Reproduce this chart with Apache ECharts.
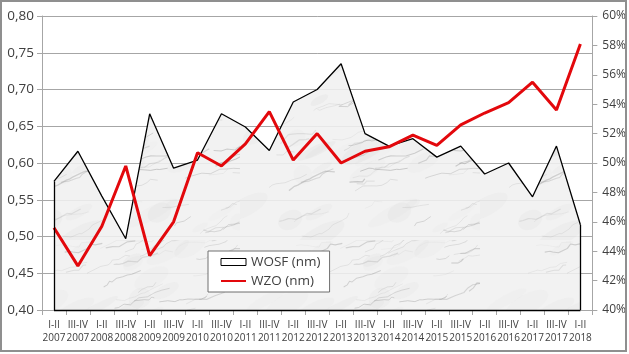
<!DOCTYPE html>
<html>
<head>
<meta charset="utf-8">
<script src="https://cdn.jsdelivr.net/npm/echarts@6/dist/echarts.min.js"></script>
<style>
  html, body { margin: 0; padding: 0; background: #fff; }
  #chart { position: absolute; left: 0; top: 0; width: 629px; height: 354px; }
  #frame { position: absolute; left: 0; top: 0; width: 623px; height: 348px; border: 2px solid #8f8f8f; pointer-events: none; }
</style>
</head>
<body>
<div id="chart"></div>
<div id="frame"></div>
<script>
  // half-year periods
  const categories = [
    'I-II\n2007', 'III-IV\n2007', 'I-II\n2008', 'III-IV\n2008', 'I-II\n2009', 'III-IV\n2009',
    'I-II\n2010', 'III-IV\n2010', 'I-II\n2011', 'III-IV\n2011', 'I-II\n2012', 'III-IV\n2012',
    'I-II\n2013', 'III-IV\n2013', 'I-II\n2014', 'III-IV\n2014', 'I-II\n2015', 'III-IV\n2015',
    'I-II\n2016', 'III-IV\n2016', 'I-II\n2017', 'III-IV\n2017', 'I-II\n2018'
  ];
  // WOSF (left axis)
  const wosf = [0.575, 0.616, 0.555, 0.497, 0.667, 0.593, 0.604, 0.667, 0.649, 0.617, 0.683, 0.700,
                0.735, 0.640, 0.623, 0.633, 0.608, 0.623, 0.585, 0.600, 0.554, 0.623, 0.516];
  // WZO in % (right axis)
  const wzo = [45.6, 43.0, 45.7, 49.8, 43.7, 46.0, 50.7, 49.8, 51.3, 53.5, 50.2, 52.0,
               50.0, 50.8, 51.1, 51.9, 51.2, 52.6, 53.4, 54.1, 55.5, 53.6, 58.1];
  const leftMin = 0.4, leftMax = 0.8, leftStep = 0.05;
  const rightMin = 40, rightMax = 60, rightStep = 2;

  // marble-ish texture for the area (decoration only)
  function marble() {
    const size = 240;
    const c = document.createElement('canvas');
    c.width = c.height = size;
    const g = c.getContext('2d');
    g.fillStyle = '#f1f1f1';
    g.fillRect(0, 0, size, size);
    let s = 12345;
    const rnd = () => (s = (s * 16807) % 2147483647) / 2147483647;
    for (let k = 0; k < 40; k++) {
      g.fillStyle = 'rgba(215,215,215,' + (0.1 + rnd() * 0.15) + ')';
      g.beginPath();
      g.ellipse(rnd() * size, rnd() * size, 8 + rnd() * 20, 3 + rnd() * 7, -0.5, 0, Math.PI * 2);
      g.fill();
    }
    for (let k = 0; k < 90; k++) {
      let x = rnd() * size, y = rnd() * size;
      g.strokeStyle = 'rgba(140,140,140,' + (0.15 + rnd() * 0.35) + ')';
      g.lineWidth = 0.3 + rnd() * 1.0;
      g.beginPath();
      g.moveTo(x, y);
      const n = 3 + Math.floor(rnd() * 6);
      for (let j = 0; j < n; j++) {
        x += 2 + rnd() * 8;
        y += -5 + rnd() * 6;
        g.lineTo(x, y);
      }
      g.stroke();
    }
    return c;
  }

  const chart = echarts.init(document.getElementById('chart'));
  const last = categories.length - 1;
  const axisGray = '#a6a6a6';
  const textColor = '#404040';
  const font = 'Open Sans';

  chart.setOption({
    animation: false,
    textStyle: { fontFamily: font },
    grid: { left: 42, right: 36, top: 16, bottom: 44 },
    legend: {
      orient: 'vertical',
      left: 208,
      top: 251,
      padding: [4, 9, 4, 12],
      itemGap: 5,
      itemWidth: 25,
      itemHeight: 7,
      backgroundColor: '#fff',
      borderColor: '#6e6e6e',
      borderWidth: 1,
      textStyle: { fontSize: 13.5, color: textColor, fontFamily: font },
      data: [
        { name: 'WOSF (nm)', icon: 'rect', itemStyle: { color: '#fff', borderColor: '#000', borderWidth: 1 } },
        { name: 'WZO (nm)', itemStyle: { opacity: 0 } }
      ]
    },
    xAxis: {
      type: 'category',
      data: categories,
      boundaryGap: true,
      axisLine: { lineStyle: { color: axisGray } },
      axisTick: { show: true, length: 5, lineStyle: { color: axisGray } },
      axisLabel: { interval: 0, fontSize: 10, lineHeight: 13, color: textColor, margin: 9 }
    },
    yAxis: [
      {
        type: 'value',
        min: leftMin, max: leftMax, interval: leftStep,
        axisLine: { show: true, lineStyle: { color: axisGray } },
        axisTick: { show: true, length: 5, lineStyle: { color: axisGray } },
        splitLine: { lineStyle: { color: axisGray } },
        axisLabel: { fontSize: 13.5, color: textColor, margin: 8,
          formatter: v => v.toFixed(2).replace('.', ',') }
      },
      {
        type: 'value',
        min: rightMin, max: rightMax, interval: rightStep,
        axisLine: { show: true, lineStyle: { color: axisGray } },
        axisTick: { show: true, length: 5, lineStyle: { color: axisGray } },
        splitLine: { show: false },
        axisLabel: { fontSize: 12, color: textColor, margin: 10, formatter: v => v + '%' }
      }
    ],
    series: [
      {
        name: 'WOSF (nm)',
        type: 'line',
        yAxisIndex: 0,
        data: wosf,
        symbol: 'none',
        lineStyle: { color: '#000', width: 1.3 },
        itemStyle: { color: '#fff', borderColor: '#000' },
        areaStyle: { color: { image: marble(), repeat: 'repeat' }, opacity: 0.88 },
        markLine: {
          silent: true,
          symbol: 'none',
          label: { show: false },
          lineStyle: { color: '#000', width: 1.3, type: 'solid' },
          data: [
            [{ coord: [0, leftMin] }, { coord: [0, wosf[0]] }],
            [{ coord: [last, leftMin] }, { coord: [last, wosf[last]] }],
            [{ coord: [0, leftMin] }, { coord: [last, leftMin] }]
          ]
        },
        z: 2
      },
      {
        name: 'WZO (nm)',
        type: 'line',
        yAxisIndex: 1,
        data: wzo,
        symbol: 'none',
        lineStyle: { color: '#e3080c', width: 3 },
        itemStyle: { color: '#e3080c' },
        z: 3
      }
    ]
  });
</script>
</body>
</html>
